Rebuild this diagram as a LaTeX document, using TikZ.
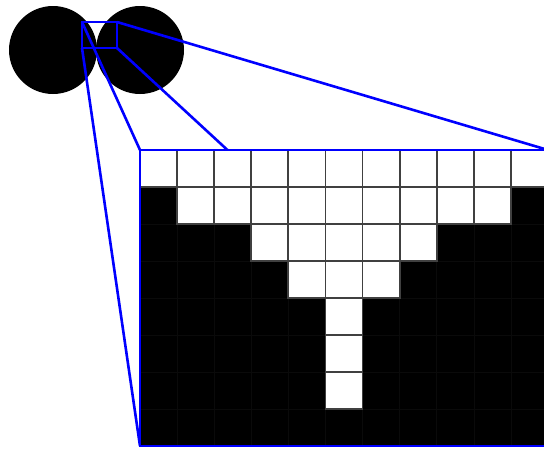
\documentclass[tikz,border=0pt]{standalone}
\begin{document}
\begin{tikzpicture}[x=1pt,y=-1pt,
  zoomline/.style={draw=blue,line width=2.6pt},
  blob/.style={circle,fill=black,minimum size=88pt,inner sep=0pt},
  lit/.style={fill=white,draw=black!75,line width=1.8pt},
  frame/.style={inner sep=0pt,outer sep=0pt}
]
\useasboundingbox (0,0) rectangle (544,450);
\clip (0,0) rectangle (544,450);
\node[blob] (c1) at (53,50) {};
\node[blob] (c2) at (140,50) {};
\node[frame,minimum width=35pt,minimum height=26pt] (small) at (99.5,35) {};
\node[frame,minimum width=408pt,minimum height=296pt] (big) at (344,298) {};
% zoom connectors
\draw[zoomline] (small.north west) -- (big.north west);
\draw[zoomline] (small.south west) -- (big.south west);
\draw[zoomline] (small.north east) -- (big.north east);
\draw[zoomline] (small.south east) -- (big.south east);
\draw[zoomline] (small.north west) rectangle (small.south east);
% magnified pixels
\fill[black] (big.north west) rectangle (big.south east);
\foreach \c in {1,...,10} \draw[black!96,line width=0.6pt] ({140+37.09*\c},150) -- ++(0,296);
\foreach \r in {1,...,7} \draw[black!96,line width=0.6pt] (140,{150+37*\r}) -- ++(408,0);
\foreach \r/\a/\b in {0/0/10,1/1/9,2/3/7,3/4/6,4/5/5,5/5/5,6/5/5}
  \foreach \c in {\a,...,\b}
    \draw[lit] ({140+37.09*\c},{150+37*\r}) rectangle ++(37.09,37);
\draw[zoomline] (big.north west) rectangle (big.south east);
\end{tikzpicture}
\end{document}
